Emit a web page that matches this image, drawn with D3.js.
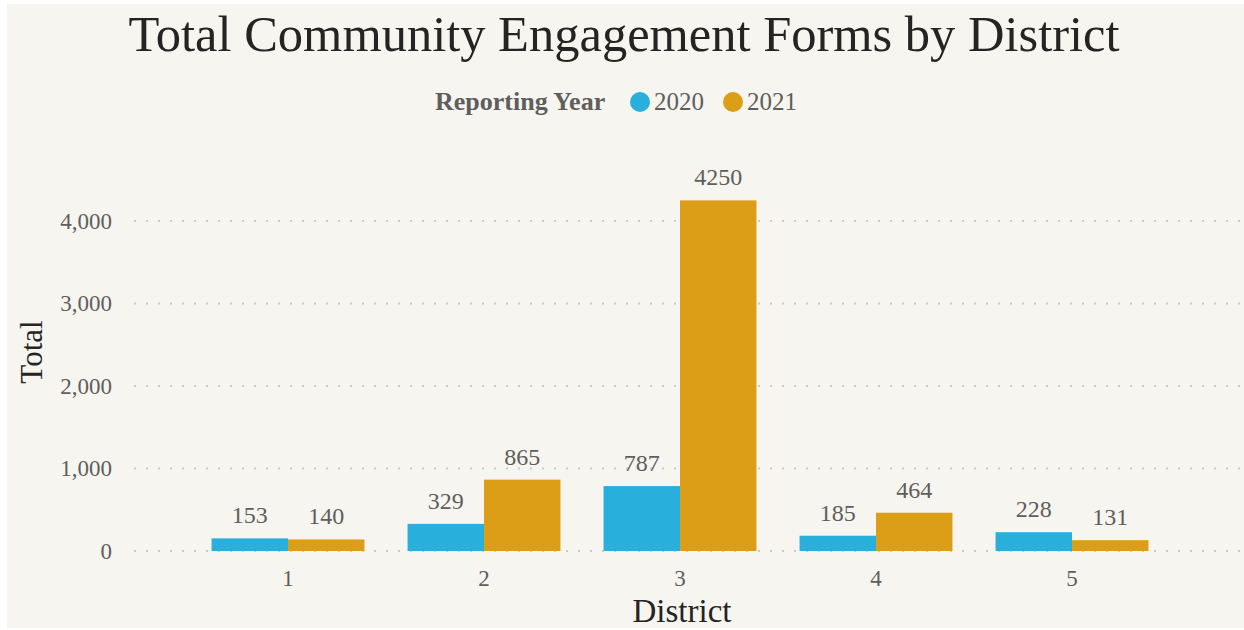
<!DOCTYPE html>
<html>
<head>
<meta charset="utf-8">
<script src="https://cdn.jsdelivr.net/npm/d3@7"></script>
<style>
  body { margin: 0; background: #ffffff; }
  svg { display: block; }
  text { font-family: "Liberation Serif", "Times New Roman", serif; }
</style>
</head>
<body>
<svg id="chart" width="1244" height="630"></svg>
<script>
// data
var districts = ["1", "2", "3", "4", "5"];
var years = ["2020", "2021"];
var values2020 = [153, 329, 787, 185, 228];
var values2021 = [140, 865, 4250, 464, 131];
var yTicks = [0, 1000, 2000, 3000, 4000];

var colors = { "2020": "#29afdc", "2021": "#dc9e16" };

var width = 1244, height = 630;
var svg = d3.select("svg#chart");

// panel background
svg.append("rect")
  .attr("x", 7).attr("y", 4)
  .attr("width", width - 7).attr("height", height - 6)
  .attr("fill", "#f7f5f0");

var rows = districts.map(function(d, i) {
  return { district: d, "2020": values2020[i], "2021": values2021[i] };
});

var x = d3.scaleBand()
  .domain(districts)
  .range([190, 1170])
  .paddingInner(0.22)
  .paddingOuter(0.11);

var x1 = d3.scaleBand()
  .domain(years)
  .range([0, x.bandwidth()]);

var y = d3.scaleLinear()
  .domain([0, 4000])
  .range([551, 221]);

// title
svg.append("text")
  .attr("x", 624).attr("y", 51)
  .attr("text-anchor", "middle")
  .attr("font-size", 50.5)
  .attr("fill", "#252423")
  .text("Total Community Engagement Forms by District");

// legend
var legend = svg.append("g").attr("transform", "translate(0,110)");
legend.append("text")
  .attr("x", 435).attr("y", 0)
  .attr("font-size", 26)
  .attr("font-weight", "bold")
  .attr("fill", "#605e5c")
  .text("Reporting Year");
var lx = [640, 733];
years.forEach(function(yr, i) {
  legend.append("circle")
    .attr("cx", lx[i]).attr("cy", -8).attr("r", 10)
    .attr("fill", colors[yr]);
  legend.append("text")
    .attr("x", lx[i] + 14).attr("y", 0)
    .attr("font-size", 25)
    .attr("fill", "#605e5c")
    .text(yr);
});

// gridlines + y axis
var yAxis = d3.axisLeft(y)
  .tickValues(yTicks)
  .tickSize(0)
  .tickPadding(0)
  .tickFormat(d3.format(","));

var gy = svg.append("g")
  .attr("transform", "translate(112,0)")
  .call(yAxis);
gy.select(".domain").remove();
gy.selectAll("text")
  .attr("font-family", "Liberation Serif, serif")
  .attr("font-size", 23)
  .attr("fill", "#605e5c");

svg.append("g").selectAll("line.grid")
  .data(yTicks)
  .enter().append("line")
  .attr("class", "grid")
  .attr("x1", 134).attr("x2", 1240)
  .attr("y1", function(d) { return y(d); })
  .attr("y2", function(d) { return y(d); })
  .attr("stroke", "#cbc9c6")
  .attr("stroke-width", 2)
  .attr("stroke-dasharray", "2,10");

// y title
svg.append("text")
  .attr("transform", "translate(42,352) rotate(-90)")
  .attr("text-anchor", "middle")
  .attr("font-size", 31)
  .attr("fill", "#252423")
  .text("Total");

// bars
var groups = svg.append("g").selectAll("g.grp")
  .data(rows)
  .enter().append("g")
  .attr("class", "grp")
  .attr("transform", function(d) { return "translate(" + x(d.district) + ",0)"; });

groups.selectAll("rect")
  .data(function(d) { return years.map(function(k) { return { key: k, value: d[k] }; }); })
  .enter().append("rect")
  .attr("x", function(d) { return x1(d.key); })
  .attr("width", x1.bandwidth())
  .attr("y", function(d) { return y(d.value); })
  .attr("height", function(d) { return y(0) - y(d.value); })
  .attr("fill", function(d) { return colors[d.key]; });

groups.selectAll("text.val")
  .data(function(d) { return years.map(function(k) { return { key: k, value: d[k] }; }); })
  .enter().append("text")
  .attr("class", "val")
  .attr("x", function(d) { return x1(d.key) + x1.bandwidth() / 2; })
  .attr("y", function(d) { return y(d.value) - 15; })
  .attr("text-anchor", "middle")
  .attr("font-size", 24)
  .attr("fill", "#605e5c")
  .text(function(d) { return d.value; });

// x axis
var gx = svg.append("g")
  .attr("transform", "translate(0,570)")
  .call(d3.axisBottom(x).tickSize(0).tickPadding(0));
gx.select(".domain").remove();
gx.selectAll("text")
  .attr("dy", "0.71em")
  .attr("font-family", "Liberation Serif, serif")
  .attr("font-size", 23)
  .attr("fill", "#605e5c");

svg.append("text")
  .attr("x", 682).attr("y", 622)
  .attr("text-anchor", "middle")
  .attr("font-size", 33)
  .attr("fill", "#252423")
  .text("District");
</script>
</body>
</html>
